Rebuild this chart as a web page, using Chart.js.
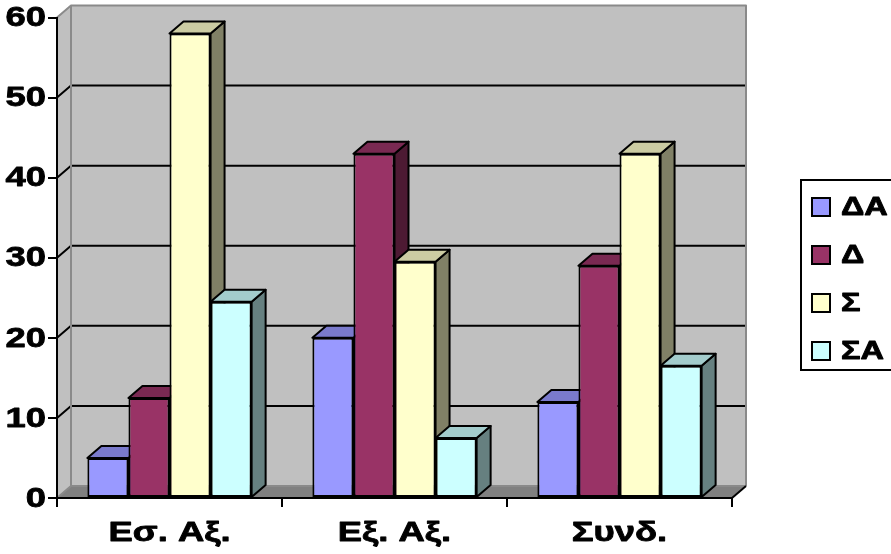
<!DOCTYPE html>
<html>
<head>
<meta charset="utf-8">
<script src="https://cdn.jsdelivr.net/npm/chart.js@4/dist/chart.umd.min.js"></script>
<style>
  html, body { margin: 0; padding: 0; background: #ffffff; }
  #wrap { width: 891px; height: 554px; }
</style>
</head>
<body>
<div id="wrap"><canvas id="chart" width="891" height="554"></canvas></div>
<script>
// Categories and series
const categories = ['Εσ. Αξ.', 'Εξ. Αξ.', 'Συνδ.'];
const seriesNames = ['ΔΑ', 'Δ', 'Σ', 'ΣΑ'];
const valuesDA = [5, 20, 12];
const valuesD = [12.5, 43, 29];
const valuesS = [58, 29.5, 43];
const valuesSA = [24.5, 7.5, 16.5];
const seriesColors = ['#9999FF', '#993366', '#FFFFCC', '#CCFFFF'];
const yMin = 0, yMax = 60, yStep = 10;

const FONT = '"Liberation Sans", Arial, sans-serif';
// wide bold lettering: glyphs stretched horizontally
const TEXT_STRETCH = 1.3;
// depth offset of the 3D box
const DX = 14, DY = -12;

function shade(hex, f) {
  const n = parseInt(hex.slice(1), 16);
  const r = Math.round(((n >> 16) & 255) * f);
  const g = Math.round(((n >> 8) & 255) * f);
  const b = Math.round((n & 255) * f);
  return `rgb(${r},${g},${b})`;
}

function poly(ctx, pts, fill, stroke, lw) {
  ctx.beginPath();
  ctx.moveTo(pts[0][0], pts[0][1]);
  for (let i = 1; i < pts.length; i++) ctx.lineTo(pts[i][0], pts[i][1]);
  ctx.closePath();
  if (fill) { ctx.fillStyle = fill; ctx.fill(); }
  if (stroke) { ctx.strokeStyle = stroke; ctx.lineWidth = lw; ctx.stroke(); }
}

function wideText(ctx, text, x, y, align, size) {
  ctx.save();
  ctx.translate(x, y);
  ctx.scale(TEXT_STRETCH, 1);
  ctx.font = 'bold ' + size + 'px ' + FONT;
  ctx.fillStyle = '#000';
  ctx.strokeStyle = '#000';
  ctx.lineWidth = 0.8;
  ctx.lineJoin = 'round';
  ctx.textAlign = align;
  ctx.textBaseline = 'middle';
  ctx.fillText(text, 0, 0);
  ctx.strokeText(text, 0, 0);
  ctx.restore();
}

const wallsPlugin = {
  id: 'walls',
  // walls, floor and gridlines behind the columns
  beforeDraw(chart) {
    const { ctx, chartArea: a, scales } = chart;
    const L = a.left, R = a.right, T = a.top, B = a.bottom;
    ctx.save();
    ctx.lineJoin = 'round';
    poly(ctx, [[L + DX, T + DY], [R + DX, T + DY], [R + DX, B + DY], [L + DX, B + DY]], '#C0C0C0', null);
    poly(ctx, [[L, T], [L + DX, T + DY], [L + DX, B + DY], [L, B]], '#C0C0C0', null);
    poly(ctx, [[L, B], [R, B], [R + DX, B + DY], [L + DX, B + DY]], '#808080', null);
    ctx.strokeStyle = '#000';
    ctx.lineWidth = 2;
    scales.y.ticks.forEach(t => {
      if (t.value <= yMin || t.value >= yMax) return;
      const y = scales.y.getPixelForValue(t.value);
      ctx.beginPath();
      ctx.moveTo(L, y);
      ctx.lineTo(L + DX, y + DY);
      ctx.lineTo(R + DX, y + DY);
      ctx.stroke();
    });
    ctx.strokeStyle = '#8a8a8a';
    ctx.beginPath();
    ctx.moveTo(L, T);
    ctx.lineTo(L + DX, T + DY);
    ctx.lineTo(R + DX, T + DY);
    ctx.lineTo(R + DX, B + DY);
    ctx.moveTo(L + DX, T + DY);
    ctx.lineTo(L + DX, B + DY);
    ctx.lineTo(R + DX, B + DY);
    ctx.moveTo(L, B);
    ctx.lineTo(L + DX, B + DY);
    ctx.stroke();
    ctx.strokeStyle = '#000';
    ctx.beginPath();
    ctx.moveTo(R, B);
    ctx.lineTo(R + DX, B + DY);
    ctx.stroke();
    ctx.restore();
  },
  // top and side faces of each column, left to right
  beforeDatasetsDraw(chart) {
    const ctx = chart.ctx;
    ctx.save();
    ctx.lineJoin = 'round';
    const n = chart.data.labels.length;
    for (let i = 0; i < n; i++) {
      chart.data.datasets.forEach((ds, d) => {
        const el = chart.getDatasetMeta(d).data[i];
        const l = el.x - el.width / 2, r = el.x + el.width / 2;
        const top = el.y, base = el.base;
        poly(ctx, [[r, top], [r + DX, top + DY], [r + DX, base + DY], [r, base]], shade(ds.backgroundColor, 0.5), '#000', 2);
        poly(ctx, [[l, top], [l + DX, top + DY], [r + DX, top + DY], [r, top]], shade(ds.backgroundColor, 0.8), '#000', 2);
      });
    }
    ctx.restore();
  },
  // axis labels and legend
  afterDraw(chart) {
    const { ctx, scales } = chart;
    const xs = scales.x, ys = scales.y;
    ys.ticks.forEach((t, i) => {
      wideText(ctx, t.label, 46, ys.getPixelForTick(i) + 1, 'right', 28);
    });
    xs.ticks.forEach((t, i) => {
      wideText(ctx, chart.data.labels[t.value], xs.getPixelForTick(i), 533, 'center', 28);
    });
    ctx.save();
    ctx.fillStyle = '#fff';
    ctx.fillRect(801, 180, 100, 190);
    ctx.strokeStyle = '#000';
    ctx.lineWidth = 2;
    ctx.strokeRect(801, 180, 100, 190);
    chart.data.datasets.forEach((ds, d) => {
      const y = 198 + d * 48;
      ctx.fillStyle = ds.backgroundColor;
      ctx.fillRect(812, y, 18, 18);
      ctx.lineWidth = 2;
      ctx.strokeStyle = '#000';
      ctx.strokeRect(812, y, 18, 18);
      wideText(ctx, ds.label, 841, y + 10, 'left', 25);
    });
    ctx.restore();
  }
};

const seriesValues = [valuesDA, valuesD, valuesS, valuesSA];

new Chart(document.getElementById('chart'), {
  type: 'bar',
  data: {
    labels: categories,
    datasets: seriesNames.map((name, k) => ({
      label: name,
      data: seriesValues[k],
      backgroundColor: seriesColors[k],
      borderColor: '#000',
      borderWidth: 2,
      borderSkipped: false,
      categoryPercentage: 0.73,
      barPercentage: 1
    }))
  },
  options: {
    responsive: false,
    animation: false,
    devicePixelRatio: 1,
    layout: { padding: { top: 17.5, right: 159, left: 0, bottom: 0 } },
    plugins: { legend: { display: false }, tooltip: { enabled: false } },
    scales: {
      x: {
        offset: true,
        grid: { offset: true, drawOnChartArea: false, drawTicks: true, tickLength: 9, color: '#000', lineWidth: 2 },
        border: { color: '#000', width: 2 },
        ticks: { display: false },
        afterFit(s) { s.height = 56; }
      },
      y: {
        min: yMin,
        max: yMax,
        grid: { drawOnChartArea: false, drawTicks: true, tickLength: 9, color: '#000', lineWidth: 2 },
        border: { color: '#000', width: 2 },
        ticks: { stepSize: yStep, display: false },
        afterFit(s) { s.width = 57; }
      }
    }
  },
  plugins: [wallsPlugin]
});
</script>
</body>
</html>
